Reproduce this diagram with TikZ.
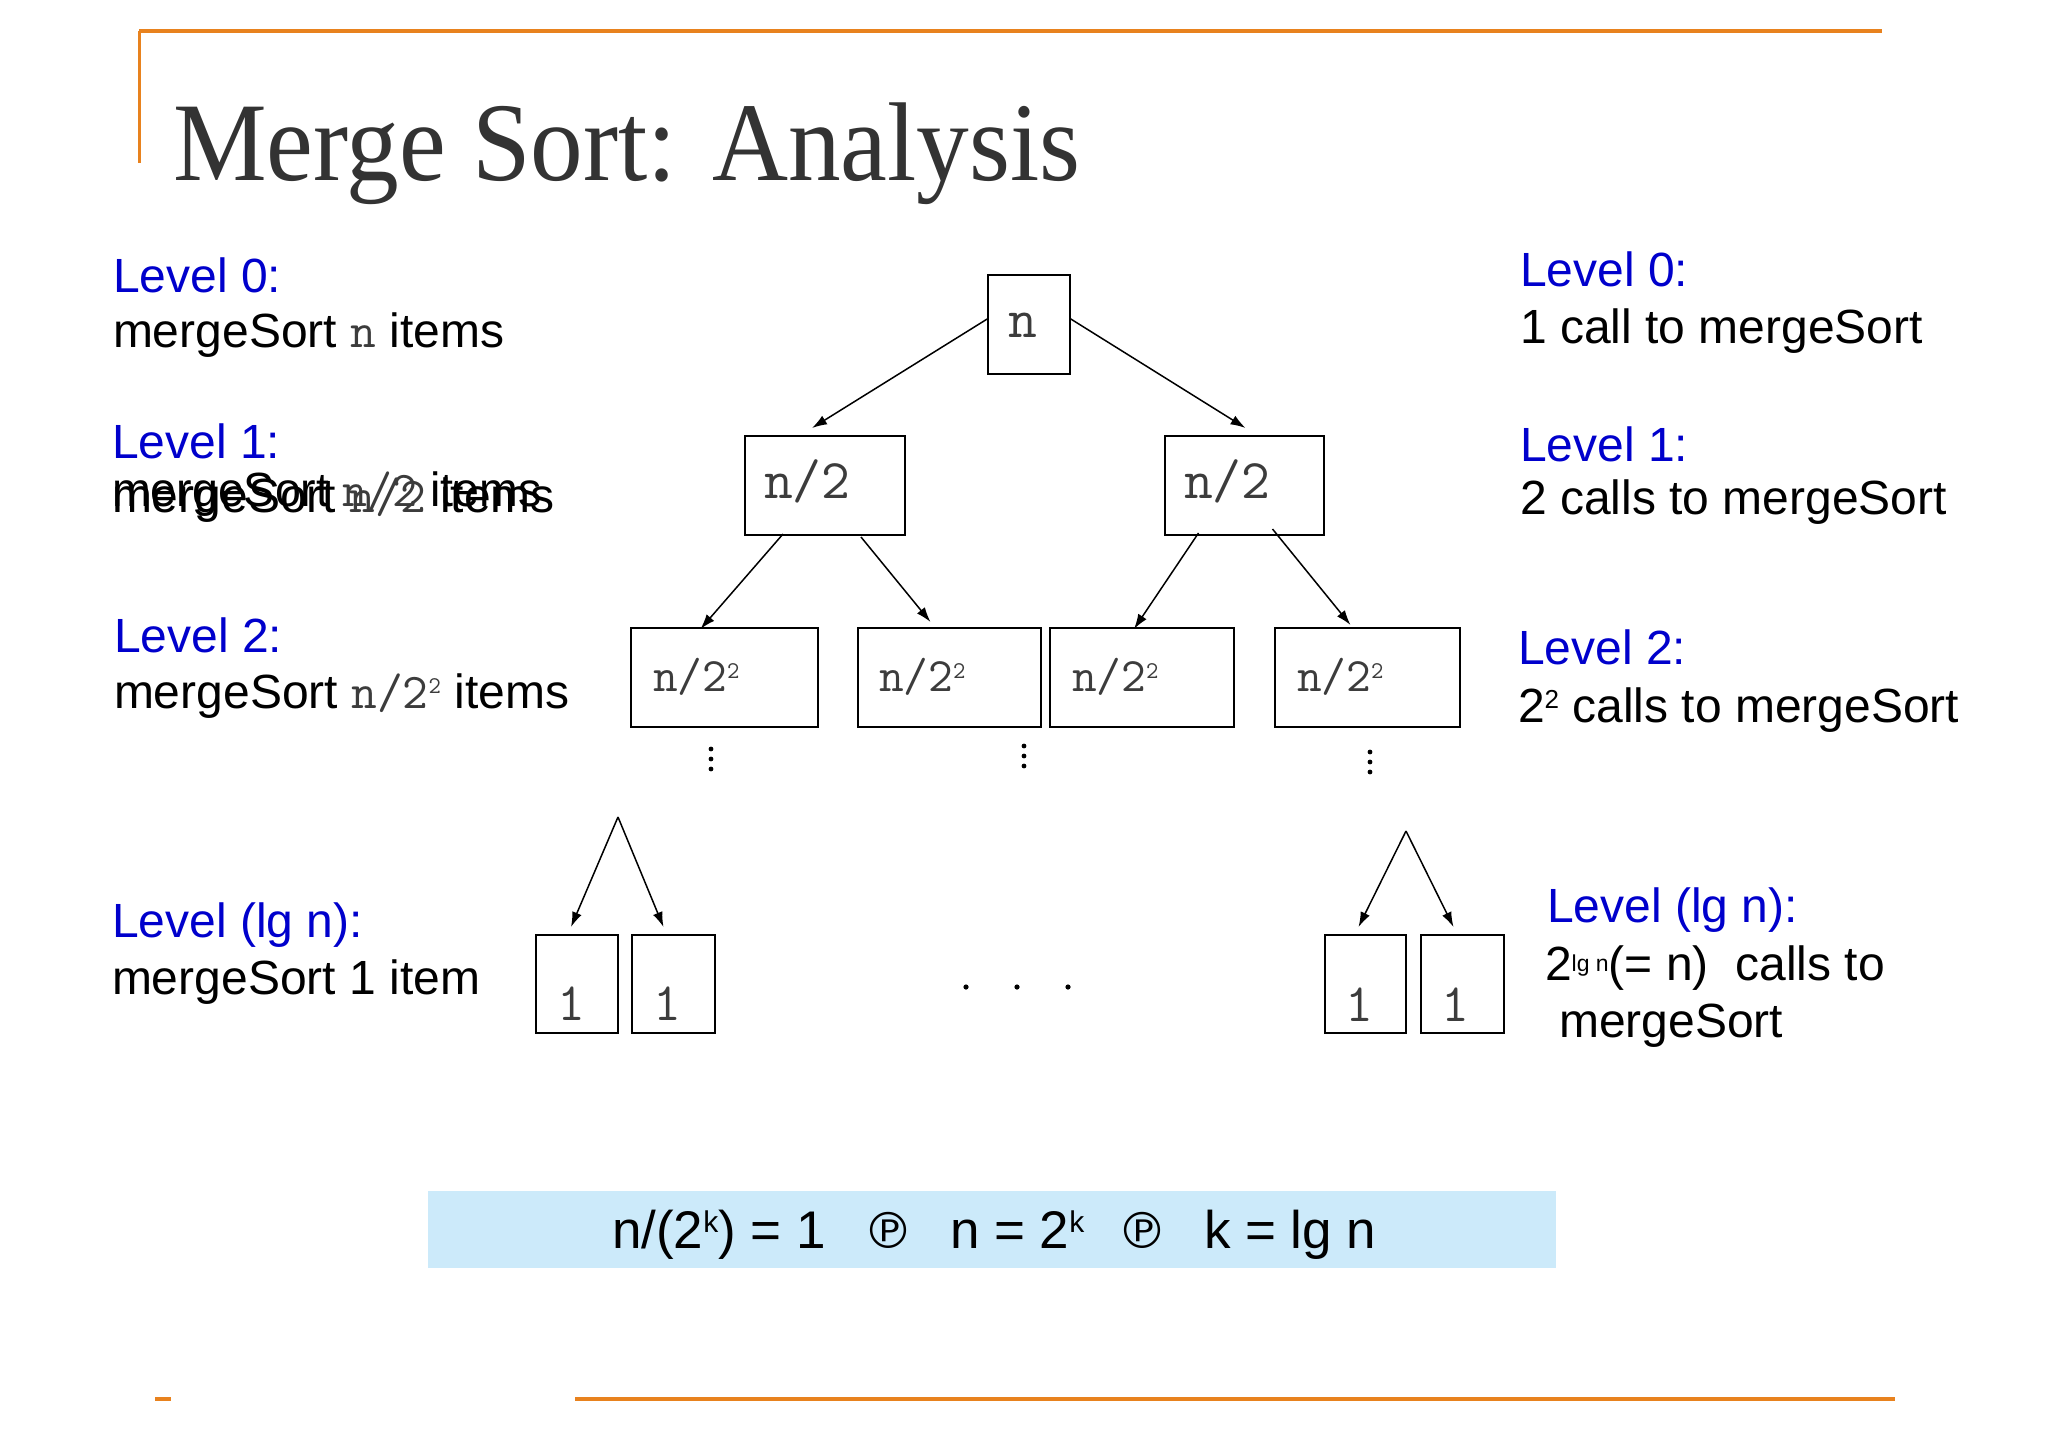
\documentclass[tikz,border=0pt]{standalone}
\usepackage{fontspec}
\usepackage{graphicx}
\setmainfont{Liberation Sans}
\newfontfamily\titlef{Liberation Serif}
\newfontfamily\symf{DejaVu Sans}
\usetikzlibrary{arrows.meta}
\definecolor{lvlblue}{RGB}{0,0,204}
\definecolor{frameorange}{RGB}{232,130,30}
\definecolor{formbg}{RGB}{204,234,250}
\definecolor{monogray}{RGB}{60,60,60}
\definecolor{titlegray}{RGB}{51,51,51}
\newcommand{\fs}[1]{\fontsize{#1}{#1}\selectfont}
\newcommand{\mn}[1]{{\ttfamily\fs{50}\color{monogray}#1}}
\newcommand{\supx}[3]{\raisebox{#1}{\fontsize{#2}{#2}\selectfont #3}}
\begin{document}
\begin{tikzpicture}[x=1pt,y=-1pt,
  lbl/.style={anchor=base west, inner sep=0pt, outer sep=0pt, font=\fs{48}},
  lvl/.style={lbl, text=lvlblue},
  boxn/.style={draw, line width=2pt, inner sep=0pt, outer sep=0pt, rectangle},
  mtxt/.style={anchor=base west, inner sep=0pt, outer sep=0pt, text=monogray},
  arr/.style={line width=1.5pt, -{Latex[length=15pt,width=10pt]}},
  orl/.style={frameorange, line width=4pt},
  dotf/.style={fill=black}]
\useasboundingbox (0,0) rectangle (2048,1448);
\fill[white] (0,0) rectangle (2048,1448);
% frame
\draw[orl] (139,31) -- (1882,31);
\draw[frameorange, line width=3pt] (139,31) -- (139,163);
\draw[orl] (155,1399) -- (171,1399);
\draw[orl] (575,1399) -- (1895,1399);
% title
\node[anchor=base west, inner sep=0pt, text=titlegray, font=\titlef\fs{112}] (title) at (173,180) {\scalebox{0.94}[1]{Merge Sort: Analysis}};
% left labels
\node[lvl] (L0) at (113,292) {Level 0:};
\node[lbl] (L0t) at (113,347) {mergeSort \mn{n} items};
\node[lvl] (L1) at (112,458) {Level 1:};
\node[lbl] (L1ta) at (112,512) {mergeSort \mn{n/2} items};
\node[lbl] (L1tb) at (112,506) {\scalebox{0.97}[1]{mergeSort \mn{n/2} items}};
\node[lvl] (L2) at (114,652) {Level 2:};
\node[lbl] (L2t) at (114,708) {mergeSort \mn{n/2\supx{15pt}{24}{2}} items};
\node[lvl] (Lg) at (112,937) {Level (lg n):};
\node[lbl] (Lgt) at (112,994) {mergeSort 1 item};
% right labels
\node[lvl] (R0) at (1520,286) {Level 0:};
\node[lbl] (R0t) at (1520,343) {1 call to mergeSort};
\node[lvl] (R1) at (1520,461) {Level 1:};
\node[lbl] (R1t) at (1520,514) {2 calls to mergeSort};
\node[lvl] (R2) at (1518,664) {Level 2:};
\node[lbl] (R2t) at (1518,722) {2\supx{14pt}{26}{2} calls to mergeSort};
\node[lvl] (Rg) at (1547,922) {Level (lg n):};
\node[lbl] (Rgt) at (1545,980) {2\supx{9pt}{23}{lg n}(= n)\ \ calls to};
\node[lbl] (Rgt2) at (1559,1037) {mergeSort};
% tree boxes
\node[boxn, minimum width=82pt, minimum height=99pt] (root) at (1029,324.5) {};
\node[boxn, minimum width=160pt, minimum height=99pt] (l1) at (825,485.5) {};
\node[boxn, minimum width=159pt, minimum height=99pt] (r1) at (1244.5,485.5) {};
\node[boxn, minimum width=187pt, minimum height=99pt] (b1) at (724.5,677.5) {};
\node[boxn, minimum width=183pt, minimum height=99pt] (b2) at (949.5,677.5) {};
\node[boxn, minimum width=184pt, minimum height=99pt] (b3) at (1142,677.5) {};
\node[boxn, minimum width=185pt, minimum height=99pt] (b4) at (1367.5,677.5) {};
\node[boxn, minimum width=82pt, minimum height=98pt] (f1) at (577,984) {};
\node[boxn, minimum width=83pt, minimum height=98pt] (f2) at (673.5,984) {};
\node[boxn, minimum width=81pt, minimum height=98pt] (f3) at (1365.5,984) {};
\node[boxn, minimum width=83pt, minimum height=98pt] (f4) at (1462.5,984) {};
% box texts
\node[mtxt, font=\ttfamily\fs{56}] (troot) at (1008,337) {n};
\node[mtxt, font=\ttfamily\fs{56}] (tl1) at (764,498) {n/2};
\node[mtxt, font=\ttfamily\fs{56}] (tr1) at (1184,498) {n/2};
\node[mtxt, font=\ttfamily\fs{48}] (tb1) at (653,691) {n/2\supx{13pt}{24}{2}};
\node[mtxt, font=\ttfamily\fs{48}] (tb2) at (879,691) {n/2\supx{13pt}{24}{2}};
\node[mtxt, font=\ttfamily\fs{48}] (tb3) at (1072,691) {n/2\supx{13pt}{24}{2}};
\node[mtxt, font=\ttfamily\fs{48}] (tb4) at (1297,691) {n/2\supx{13pt}{24}{2}};
\node[mtxt, font=\ttfamily\fs{54}] (tf1) at (557,1020) {1};
\node[mtxt, font=\ttfamily\fs{54}] (tf2) at (653,1020) {1};
\node[mtxt, font=\ttfamily\fs{54}] (tf3) at (1345,1021) {1};
\node[mtxt, font=\ttfamily\fs{54}] (tf4) at (1441,1021) {1};
% arrows
\draw[arr] ([shift={(0,-6)}]root.west) -- ([shift={(-13,-8)}]l1.north);
\draw[arr] ([shift={(0,-6)}]root.east) -- ([shift={(1,-8)}]r1.north);
\draw[arr] ([shift={(-42,-1)}]l1.south) -- ([shift={(-24,1)}]b1.north);
\draw[arr] ([shift={(36,2)}]l1.south) -- ([shift={(-19,-6)}]b2.north);
\draw[arr] ([shift={(-46,-2)}]r1.south) -- ([shift={(-8,1)}]b3.north);
\draw[arr] ([shift={(28,-6)}]r1.south) -- ([shift={(-17,-3)}]b4.north);
\coordinate (apL) at (618,817);
\coordinate (apR) at (1406,831);
\draw[arr] (apL) -- ([shift={(-6,-8)}]f1.north);
\draw[arr] (apL) -- ([shift={(-10,-8)}]f2.north);
\draw[arr] (apR) -- ([shift={(-7,-8)}]f3.north);
\draw[arr] (apR) -- ([shift={(-9,-8)}]f4.north);
% dots
\foreach \yy in {749,759,769} \fill[dotf] (711,\yy) circle (2.4);
\foreach \yy in {746,756,766} \fill[dotf] (1024,\yy) circle (2.4);
\foreach \yy in {752,762,772} \fill[dotf] (1370,\yy) circle (2.4);
\foreach \xx in {966,1017,1068} \fill[dotf] (\xx,987) circle (2.6);
% formula
\node[fill=formbg, minimum width=1128pt, minimum height=77pt, inner sep=0pt] (fbox) at (992,1229.5) {};
\node[lbl, font=\fs{53}] (fa) at (612,1248) {n/(2\supx{16pt}{30}{k}) = 1};
\node[lbl, font=\symf\fs{50}] (fp1) at (863,1248) {℗};
\node[lbl, font=\fs{53}] (fb) at (950,1248) {n = 2\supx{16pt}{30}{k}};
\node[lbl, font=\symf\fs{50}] (fp2) at (1117,1248) {℗};
\node[lbl, font=\fs{53}] (fc) at (1204,1248) {k = lg n};
\end{tikzpicture}
\end{document}
